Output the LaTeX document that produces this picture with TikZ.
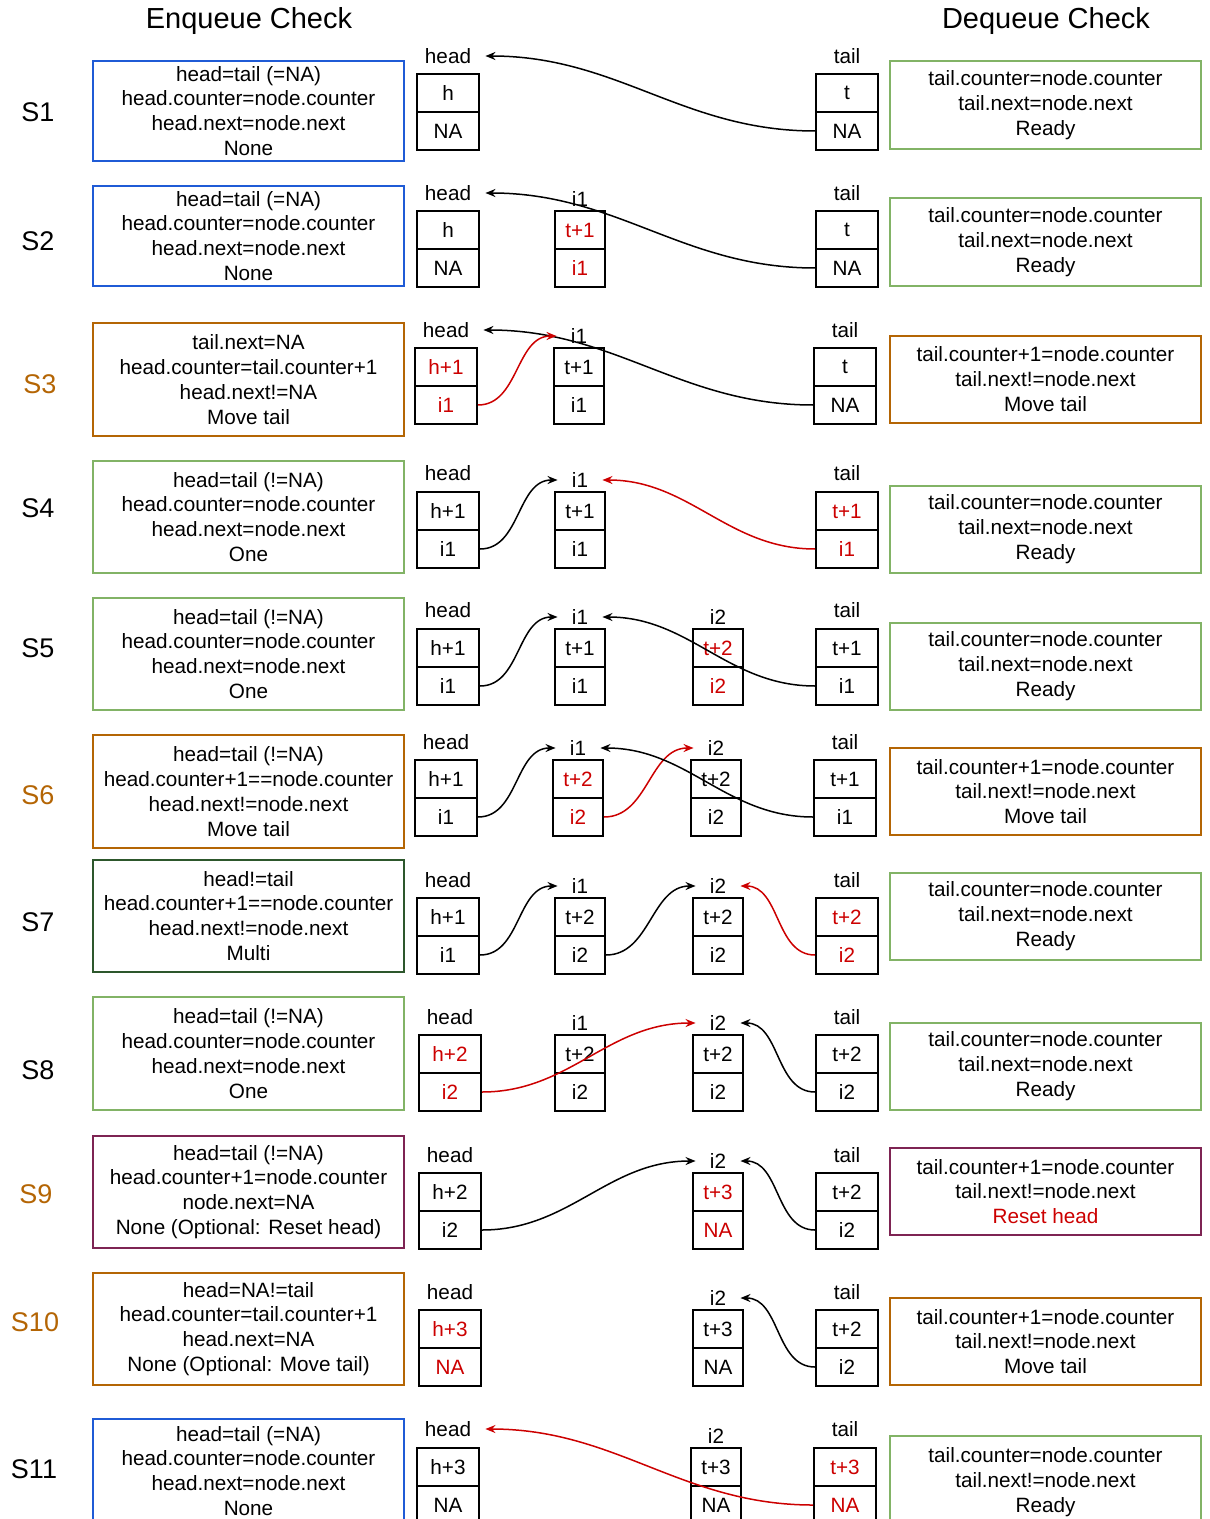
\documentclass[tikz,border=0pt]{standalone}
\usepackage{fontspec}
\setmainfont{Liberation Sans}
\usepackage{xcolor}
\usetikzlibrary{arrows.meta}

\definecolor{qred}{HTML}{CC0000}
\definecolor{qblue}{HTML}{1F5BD6}
\definecolor{qgreen}{HTML}{82B366}
\definecolor{qdgreen}{HTML}{2D572C}
\definecolor{qorange}{HTML}{B46504}
\definecolor{qpurple}{HTML}{7E2453}

\newcommand{\hl}[1]{\textcolor{qred}{#1}}
% one list node: name, x, top y, width style, upper field, lower field, label, label gap
\newcommand{\qcell}[8]{%
  \node[cell, #4] (#1-t) at (#2,#3+19) {#5};
  \node[cell, #4] (#1-b) at (#2,#3+57) {#6};
  \node[tag] (#1-l) at (#2,#3-#8) {#7};
}

\begin{document}
\begin{tikzpicture}[
      x=0.5pt, y=-0.5pt,
      font=\fontsize{10.35}{12.45}\selectfont,
      >=Stealth,
      check/.style={
        draw,
        line width=1pt,
        align=center,
        inner sep=0pt,
        minimum width=155.5pt
      },
      cell/.style={draw, line width=1pt, inner sep=0pt, minimum height=19pt},
      wide/.style={minimum width=31pt}, % head and tail nodes
      slim/.style={minimum width=25pt}, % inner nodes
      tag/.style={inner ysep=0pt, inner xsep=7pt},
      stage/.style={font=\fontsize{13.5}{16}\selectfont},
      link/.style={line width=0.75pt, -{Stealth[length=5pt,width=4pt]}}
    ]
    \useasboundingbox (0,0) rectangle (1209,1519);
    \clip (0,0) rectangle (1209,1519);

    \node[font=\fontsize{14.5}{17}\selectfont] (enqtitle) at (249,21) {Enqueue Check};
    \node[font=\fontsize{14.5}{17}\selectfont] (deqtitle) at (1046,21) {Dequeue Check};

    % S1
    \node[stage] (s1) at (38,112) {S1};
    \node[check, draw=qblue, minimum height=50pt] (enq1) at (248.5,111) {head=tail (=NA)\\head.counter=node.counter\\head.next=node.next\\None};
    \node[check, draw=qgreen, minimum height=44pt] (deq1) at (1045.5,105) {tail.counter=node.counter\\tail.next=node.next\\Ready};
    \qcell{h1}{448}{74}{wide}{h}{NA}{head}{18}
    \qcell{t1}{847}{74}{wide}{t}{NA}{tail}{18}
    \draw[link] (t1-b.west) to[out=180,in=0] (h1-l.east);

    % S2
    \node[stage] (s2) at (38,241) {S2};
    \node[check, draw=qblue, minimum height=50pt] (enq2) at (248.5,236) {head=tail (=NA)\\head.counter=node.counter\\head.next=node.next\\None};
    \node[check, draw=qgreen, minimum height=44pt] (deq2) at (1045.5,242) {tail.counter=node.counter\\tail.next=node.next\\Ready};
    \qcell{h2}{448}{211}{wide}{h}{NA}{head}{18}
    \qcell{a2}{580}{211}{slim}{\hl{t+1}}{\hl{i1}}{i1}{12}
    \qcell{t2}{847}{211}{wide}{t}{NA}{tail}{18}
    \draw[link] (t2-b.west) to[out=180,in=0] (h2-l.east);

    % S3
    \node[stage, text=qorange] (s3) at (40,384) {S3};
    \node[check, draw=qorange, minimum height=56.5pt] (enq3) at (248.5,379.5) {tail.next=NA\\head.counter=tail.counter+1\\head.next!=NA\\Move tail};
    \node[check, draw=qorange, minimum height=43.5pt] (deq3) at (1045.5,379.5) {tail.counter+1=node.counter\\tail.next!=node.next\\Move tail};
    \qcell{h3}{446}{348}{wide}{\hl{h+1}}{\hl{i1}}{head}{18}
    \qcell{a3}{579}{348}{slim}{t+1}{i1}{i1}{12}
    \qcell{t3}{845}{348}{wide}{t}{NA}{tail}{18}
    \draw[link] (t3-b.west) to[out=180,in=0] (h3-l.east);
    \draw[link, qred] (h3-b.east) to[out=0,in=180] (a3-l.west);

    % S4
    \node[stage] (s4) at (38,508) {S4};
    \node[check, draw=qgreen, minimum height=56pt] (enq4) at (248.5,517) {head=tail (!=NA)\\head.counter=node.counter\\head.next=node.next\\One};
    \node[check, draw=qgreen, minimum height=43.5pt] (deq4) at (1045.5,529.5) {tail.counter=node.counter\\tail.next=node.next\\Ready};
    \qcell{h4}{448}{492}{wide}{h+1}{i1}{head}{19}
    \qcell{a4}{580}{492}{slim}{t+1}{i1}{i1}{12}
    \qcell{t4}{847}{492}{wide}{\hl{t+1}}{\hl{i1}}{tail}{19}
    \draw[link] (h4-b.east) to[out=0,in=180] (a4-l.west);
    \draw[link, qred] (t4-b.west) to[out=180,in=0] (a4-l.east);

    % S5
    \node[stage] (s5) at (38,648) {S5};
    \node[check, draw=qgreen, minimum height=56pt] (enq5) at (248.5,654) {head=tail (!=NA)\\head.counter=node.counter\\head.next=node.next\\One};
    \node[check, draw=qgreen, minimum height=43.5pt] (deq5) at (1045.5,666.5) {tail.counter=node.counter\\tail.next=node.next\\Ready};
    \qcell{h5}{448}{629}{wide}{h+1}{i1}{head}{19}
    \qcell{a5}{580}{629}{slim}{t+1}{i1}{i1}{12}
    \qcell{b5}{718}{629}{slim}{\hl{t+2}}{\hl{i2}}{i2}{12}
    \qcell{t5}{847}{629}{wide}{t+1}{i1}{tail}{19}
    \draw[link] (h5-b.east) to[out=0,in=180] (a5-l.west);
    \draw[link] (t5-b.west) to[out=180,in=0] (a5-l.east);

    % S6
    \node[stage, text=qorange] (s6) at (38,795) {S6};
    \node[check, draw=qorange, minimum height=56.5pt] (enq6) at (248.5,791.5) {head=tail (!=NA)\\head.counter+1==node.counter\\head.next!=node.next\\Move tail};
    \node[check, draw=qorange, minimum height=43.5pt] (deq6) at (1045.5,791.5) {tail.counter+1=node.counter\\tail.next!=node.next\\Move tail};
    \qcell{h6}{446}{760}{wide}{h+1}{i1}{head}{18}
    \qcell{a6}{578}{760}{slim}{\hl{t+2}}{\hl{i2}}{i1}{12}
    \qcell{b6}{716}{760}{slim}{t+2}{i2}{i2}{12}
    \qcell{t6}{845}{760}{wide}{t+1}{i1}{tail}{18}
    \draw[link] (h6-b.east) to[out=0,in=180] (a6-l.west);
    \draw[link, qred] (a6-b.east) to[out=0,in=180] (b6-l.west);
    \draw[link] (t6-b.west) to[out=180,in=0] (a6-l.east);

    % S7
    \node[stage] (s7) at (38,922) {S7};
    \node[check, draw=qdgreen, minimum height=56pt] (enq7) at (248.5,916) {head!=tail\\head.counter+1==node.counter\\head.next!=node.next\\Multi};
    \node[check, draw=qgreen, minimum height=43.5pt] (deq7) at (1045.5,916.5) {tail.counter=node.counter\\tail.next=node.next\\Ready};
    \qcell{h7}{448}{898}{wide}{h+1}{i1}{head}{18}
    \qcell{a7}{580}{898}{slim}{t+2}{i2}{i1}{12}
    \qcell{b7}{718}{898}{slim}{t+2}{i2}{i2}{12}
    \qcell{t7}{847}{898}{wide}{\hl{t+2}}{\hl{i2}}{tail}{18}
    \draw[link] (h7-b.east) to[out=0,in=180] (a7-l.west);
    \draw[link] (a7-b.east) to[out=0,in=180] (b7-l.west);
    \draw[link, qred] (t7-b.west) to[out=180,in=0] (b7-l.east);

    % S8
    \node[stage] (s8) at (38,1070) {S8};
    \node[check, draw=qgreen, minimum height=56.5pt] (enq8) at (248.5,1053.5) {head=tail (!=NA)\\head.counter=node.counter\\head.next=node.next\\One};
    \node[check, draw=qgreen, minimum height=43.5pt] (deq8) at (1045.5,1066.5) {tail.counter=node.counter\\tail.next=node.next\\Ready};
    \qcell{h8}{450}{1035}{wide}{\hl{h+2}}{\hl{i2}}{head}{18}
    \qcell{a8}{580}{1035}{slim}{t+2}{i2}{i1}{12}
    \qcell{b8}{718}{1035}{slim}{t+2}{i2}{i2}{12}
    \qcell{t8}{847}{1035}{wide}{t+2}{i2}{tail}{18}
    \draw[link, qred] (h8-b.east) to[out=0,in=180] (b8-l.west);
    \draw[link] (t8-b.west) to[out=180,in=0] (b8-l.east);

    % S9
    \node[stage, text=qorange] (s9) at (36,1194) {S9};
    \node[check, draw=qpurple, minimum height=56pt] (enq9) at (248.5,1192) {head=tail (!=NA)\\head.counter+1=node.counter\\node.next=NA\\None (Optional: Reset head)};
    \node[check, draw=qpurple, minimum height=43.5pt] (deq9) at (1045.5,1191.5) {tail.counter+1=node.counter\\tail.next!=node.next\\\hl{Reset head}};
    \qcell{h9}{450}{1173}{wide}{h+2}{i2}{head}{18}
    \qcell{b9}{718}{1173}{slim}{\hl{t+3}}{\hl{NA}}{i2}{12}
    \qcell{t9}{847}{1173}{wide}{t+2}{i2}{tail}{18}
    \draw[link] (h9-b.east) to[out=0,in=180] (b9-l.west);
    \draw[link] (t9-b.west) to[out=180,in=0] (b9-l.east);

    % S10
    \node[stage, text=qorange] (s10) at (35,1322) {S10};
    \node[check, draw=qorange, minimum height=56pt] (enq10) at (248.5,1329) {head=NA!=tail\\head.counter=tail.counter+1\\head.next=NA\\None (Optional: Move tail)};
    \node[check, draw=qorange, minimum height=43.5pt] (deq10) at (1045.5,1341.5) {tail.counter+1=node.counter\\tail.next!=node.next\\Move tail};
    \qcell{h10}{450}{1310}{wide}{\hl{h+3}}{\hl{NA}}{head}{18}
    \qcell{b10}{718}{1310}{slim}{t+3}{NA}{i2}{12}
    \qcell{t10}{847}{1310}{wide}{t+2}{i2}{tail}{18}
    \draw[link] (t10-b.west) to[out=180,in=0] (b10-l.east);

    % S11 (runs off the lower edge)
    \node[stage] (s11) at (34,1469) {S11};
    \node[check, draw=qblue, minimum height=52pt] (enq11) at (248.5,1471) {head=tail (=NA)\\head.counter=node.counter\\head.next=node.next\\None};
    \node[check, draw=qgreen, minimum height=46pt] (deq11) at (1045.5,1482) {tail.counter=node.counter\\tail.next!=node.next\\Ready};
    \qcell{h11}{448}{1448}{wide}{h+3}{NA}{head}{19}
    \qcell{b11}{716}{1448}{slim}{t+3}{NA}{i2}{12}
    \qcell{t11}{845}{1448}{wide}{\hl{t+3}}{\hl{NA}}{tail}{19}
    \draw[link, qred] (t11-b.west) to[out=180,in=0] (h11-l.east);
  \end{tikzpicture}
\end{document}
